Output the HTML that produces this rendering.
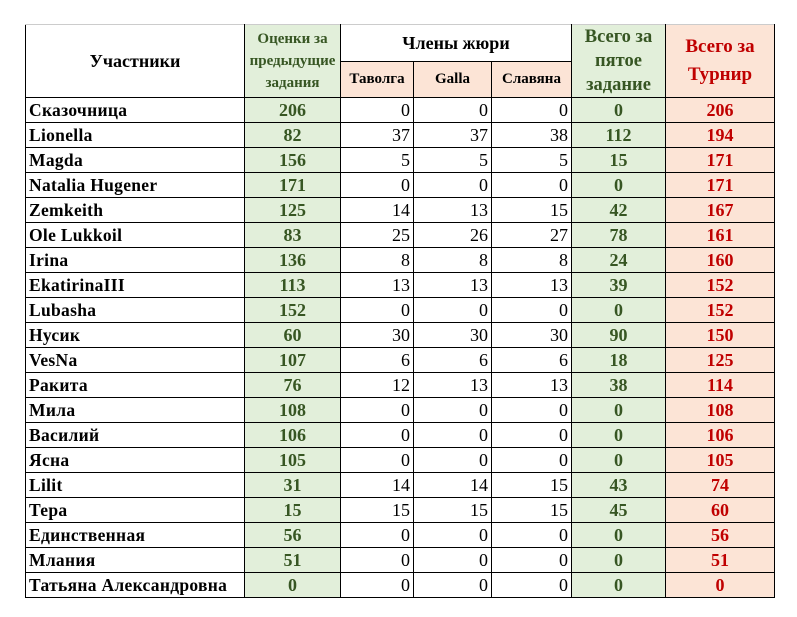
<!DOCTYPE html><html><head><meta charset="utf-8"><style>
body{margin:0;background:#fff;width:797px;height:617px;overflow:hidden}
table{position:absolute;left:25px;top:24px;border-collapse:collapse;table-layout:fixed;font-family:"Liberation Serif",serif;font-weight:bold;font-size:18px}
td{border:1px solid #000;padding:0 3px;height:24px;line-height:20px;overflow:hidden;white-space:nowrap}
tr.h td{height:35px}
.n{text-align:left;font-size:17.5px;letter-spacing:0.3px}
.g{background:#e2efda;color:#375623;text-align:center}
.j{text-align:right;font-weight:normal;font-size:18px}
.r{background:#fce4d6;color:#c00000;text-align:center}
.hp{background:#fce4d6;text-align:center;font-size:15px}
.top td{border-top:1px solid #ccc}
</style></head><body>
<table>
<colgroup><col style="width:219px"><col style="width:96px"><col style="width:73px"><col style="width:78px"><col style="width:80px"><col style="width:94px"><col style="width:109px"></colgroup>
<tr class="h top"><td rowspan="2" style="text-align:center;font-size:18px">Участники</td><td rowspan="2" class="g" style="font-size:15px;line-height:22px;white-space:normal;padding:0">Оценки за предыдущие задания</td><td colspan="3" style="text-align:center;font-size:18px">Члены жюри</td><td rowspan="2" class="g" style="font-size:18.5px;white-space:normal;line-height:24px;padding:0">Всего за пятое задание</td><td rowspan="2" class="r" style="font-size:19px;white-space:normal;line-height:28px">Всего за Турнир</td></tr>
<tr class="h"><td class="hp">Таволга</td><td class="hp">Galla</td><td class="hp">Славяна</td></tr>
<tr><td class="n">Сказочница</td><td class="g">206</td><td class="j">0</td><td class="j">0</td><td class="j">0</td><td class="g">0</td><td class="r">206</td></tr>
<tr><td class="n">Lionella</td><td class="g">82</td><td class="j">37</td><td class="j">37</td><td class="j">38</td><td class="g">112</td><td class="r">194</td></tr>
<tr><td class="n">Magda</td><td class="g">156</td><td class="j">5</td><td class="j">5</td><td class="j">5</td><td class="g">15</td><td class="r">171</td></tr>
<tr><td class="n">Natalia Hugener</td><td class="g">171</td><td class="j">0</td><td class="j">0</td><td class="j">0</td><td class="g">0</td><td class="r">171</td></tr>
<tr><td class="n">Zemkeith</td><td class="g">125</td><td class="j">14</td><td class="j">13</td><td class="j">15</td><td class="g">42</td><td class="r">167</td></tr>
<tr><td class="n">Ole Lukkoil</td><td class="g">83</td><td class="j">25</td><td class="j">26</td><td class="j">27</td><td class="g">78</td><td class="r">161</td></tr>
<tr><td class="n">Irina</td><td class="g">136</td><td class="j">8</td><td class="j">8</td><td class="j">8</td><td class="g">24</td><td class="r">160</td></tr>
<tr><td class="n">EkatirinaIII</td><td class="g">113</td><td class="j">13</td><td class="j">13</td><td class="j">13</td><td class="g">39</td><td class="r">152</td></tr>
<tr><td class="n">Lubasha</td><td class="g">152</td><td class="j">0</td><td class="j">0</td><td class="j">0</td><td class="g">0</td><td class="r">152</td></tr>
<tr><td class="n">Нусик</td><td class="g">60</td><td class="j">30</td><td class="j">30</td><td class="j">30</td><td class="g">90</td><td class="r">150</td></tr>
<tr><td class="n">VesNa</td><td class="g">107</td><td class="j">6</td><td class="j">6</td><td class="j">6</td><td class="g">18</td><td class="r">125</td></tr>
<tr><td class="n">Ракита</td><td class="g">76</td><td class="j">12</td><td class="j">13</td><td class="j">13</td><td class="g">38</td><td class="r">114</td></tr>
<tr><td class="n">Мила</td><td class="g">108</td><td class="j">0</td><td class="j">0</td><td class="j">0</td><td class="g">0</td><td class="r">108</td></tr>
<tr><td class="n">Василий</td><td class="g">106</td><td class="j">0</td><td class="j">0</td><td class="j">0</td><td class="g">0</td><td class="r">106</td></tr>
<tr><td class="n">Ясна</td><td class="g">105</td><td class="j">0</td><td class="j">0</td><td class="j">0</td><td class="g">0</td><td class="r">105</td></tr>
<tr><td class="n">Lilit</td><td class="g">31</td><td class="j">14</td><td class="j">14</td><td class="j">15</td><td class="g">43</td><td class="r">74</td></tr>
<tr><td class="n">Тера</td><td class="g">15</td><td class="j">15</td><td class="j">15</td><td class="j">15</td><td class="g">45</td><td class="r">60</td></tr>
<tr><td class="n">Единственная</td><td class="g">56</td><td class="j">0</td><td class="j">0</td><td class="j">0</td><td class="g">0</td><td class="r">56</td></tr>
<tr><td class="n">Млания</td><td class="g">51</td><td class="j">0</td><td class="j">0</td><td class="j">0</td><td class="g">0</td><td class="r">51</td></tr>
<tr><td class="n">Татьяна Александровна</td><td class="g">0</td><td class="j">0</td><td class="j">0</td><td class="j">0</td><td class="g">0</td><td class="r">0</td></tr>
</table></body></html>
